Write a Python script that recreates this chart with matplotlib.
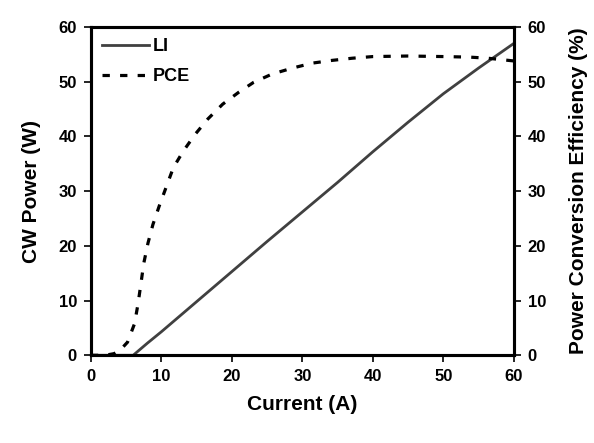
import numpy as np
import matplotlib
matplotlib.use('Agg')
from matplotlib import pyplot as plt
from matplotlib import rcParams

rcParams['font.family'] = ['Liberation Sans', 'DejaVu Sans']
rcParams['font.weight'] = 'bold'

# data
li_current = [0, 2, 4, 6, 8, 10, 15, 20, 25, 30, 35, 40, 45, 50, 55, 60]
li_power = [0, 0, 0, 0, 2.2, 4.3, 9.8, 15.3, 20.8, 26.2, 31.6, 37.2, 42.6, 47.8, 52.5, 57.0]

pce_current = [0, 2, 3.3, 4.2, 5.2, 6.2, 6.7, 7.1, 7.5, 8.1, 8.8, 9.7, 10.7, 11.7, 13.1,
               14.8, 16.6, 18.7, 21, 23.1, 25.7, 28.6, 31.4, 34.2, 37.1, 40, 45, 50,
               53.7, 56.3, 60]
pce_eff = [0, 0, 0.3, 1.0, 2.4, 5.8, 9.5, 13.1, 16.8, 20.5, 23.9, 27.3, 30.8, 34.3, 37.3,
           40.4, 43.2, 45.9, 48.1, 49.9, 51.4, 52.5, 53.4, 53.9, 54.3, 54.6, 54.7, 54.6,
           54.5, 54.3, 53.8]

fig = plt.figure(figsize=(5.94, 4.43), dpi=100)
ax = fig.add_axes([0.153, 0.198, 0.712, 0.741])
ax2 = ax.twinx()

l1, = ax.plot(li_current, li_power, '-', color='#404040', lw=2.0, label='LI')
l2, = ax2.plot(pce_current, pce_eff, color='black', lw=2.3, ls=(0, (2.3, 3.2)), label='PCE')

ax.set_xlim(0, 60)
ax.set_ylim(0, 60)
ax2.set_ylim(0, 60)
ax.set_xticks(range(0, 61, 10))
ax.set_yticks(range(0, 61, 10))
ax2.set_yticks(range(0, 61, 10))

for a in (ax, ax2):
    for s in a.spines.values():
        s.set_linewidth(2.2)
    a.tick_params(direction='out', width=1.2, length=5, pad=5, labelsize=12)
    for t in a.get_xticklabels() + a.get_yticklabels():
        t.set_fontweight('bold')

ax.set_xlabel('Current (A)', fontsize=15, fontweight='bold')
ax.set_ylabel('CW Power (W)', fontsize=15, fontweight='bold')
ax2.set_ylabel('Power Conversion Efficiency (%)', fontsize=15, fontweight='bold')

# label centres (axes fraction)
ax.xaxis.set_label_coords(0.5, -0.15)
ax.xaxis.label.set_va('center')
ax.yaxis.set_label_coords(-0.14, 0.5)
ax.yaxis.label.set_va('center')
ax2.yaxis.set_label_coords(1.152, 0.5)
ax2.yaxis.label.set_va('center')

leg = ax.legend([l1, l2], ['LI', 'PCE'], loc='upper left', frameon=False,
                fontsize=13, handlelength=2.6, handletextpad=0.25,
                borderaxespad=0.2, labelspacing=0.75)
for t in leg.get_texts():
    t.set_fontweight('bold')

fig.savefig('out.png', dpi=100)
